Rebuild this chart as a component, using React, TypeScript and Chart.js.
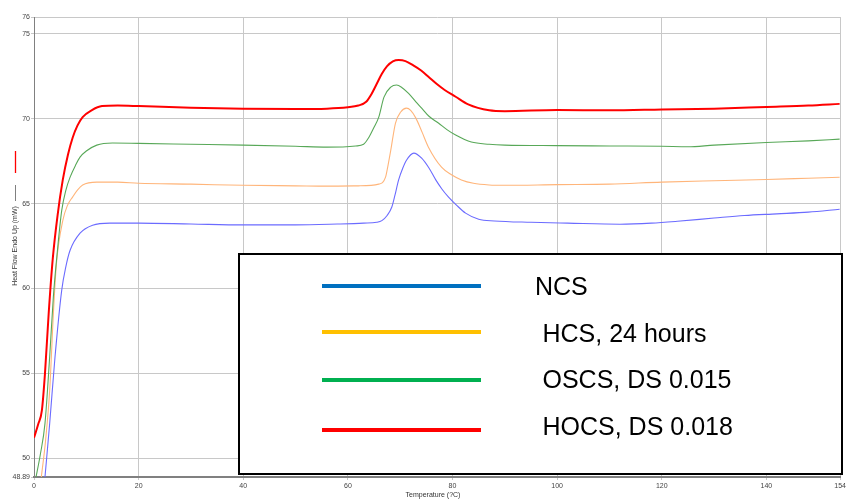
import React, { useEffect, useRef } from 'react';
import { Chart, registerables } from 'chart.js';

Chart.register(...registerables);

// ---- data ----
const seriesNames = ['NCS', 'HCS, 24 hours', 'OSCS, DS 0.015', 'HOCS, DS 0.018'];

const ncsT = [2.1, 3.0, 4.0, 5.3, 6.1, 6.9, 8.8, 11.2, 14.5, 20, 30, 40, 50, 58, 63, 65.5, 66.5, 67.5, 68.4, 69.0, 69.7, 70.5, 71.2, 72.6, 74.1, 75.5, 76.8, 78, 79.2, 80.8, 82.5, 85, 88, 95, 102, 112, 118, 123, 130, 135.8, 142, 148, 154];
const ncsHF = [48.89, 52.05, 55.9, 59.9, 61.3, 62.25, 63.26, 63.73, 63.85, 63.85, 63.8, 63.75, 63.75, 63.8, 63.85, 63.9, 64.0, 64.3, 64.8, 65.5, 66.4, 67.1, 67.56, 67.98, 67.68, 67.1, 66.4, 65.85, 65.4, 64.9, 64.44, 64.08, 63.98, 63.9, 63.85, 63.79, 63.85, 63.96, 64.15, 64.3, 64.4, 64.5, 64.67];

const hcsT = [1.4, 2.2, 3.0, 3.7, 4.3, 5.5, 6.4, 7.4, 8.3, 9.3, 12, 16, 20, 30, 40, 50, 56, 62, 65.9, 67.2, 67.7, 68.2, 69.1, 70.1, 71.2, 72, 73, 74.2, 75.4, 77.9, 79.8, 81.7, 84, 87, 90, 100, 110, 120, 130, 140, 148, 154];
const hcsHF = [48.89, 51.0, 54.0, 58.5, 61.5, 64.0, 64.9, 65.4, 65.8, 66.1, 66.27, 66.27, 66.2, 66.15, 66.08, 66.05, 66.03, 66.05, 66.15, 66.56, 67.3, 68.15, 69.75, 70.4, 70.63, 70.5, 70.04, 69.2, 68.33, 67.15, 66.7, 66.4, 66.2, 66.1, 66.08, 66.12, 66.15, 66.27, 66.35, 66.42, 66.5, 66.56];

const oscsT = [0.4, 1.2, 2.1, 3.0, 3.7, 4.5, 5.3, 6.1, 6.9, 8, 8.8, 10, 12, 15, 20, 30, 40, 50, 56, 61.5, 63, 64, 65, 65.9, 66.9, 68.2, 69.3, 70.3, 71.6, 73, 74.1, 75.5, 77.3, 79, 80.6, 83.6, 87, 90, 100, 110, 120, 125, 130, 140, 148, 154];
const oscsHF = [48.9, 50.2, 52.05, 56.0, 59.5, 62.3, 64.6, 65.8, 66.56, 67.3, 67.74, 68.1, 68.45, 68.57, 68.55, 68.5, 68.45, 68.38, 68.33, 68.4, 68.5, 68.9, 69.5, 70.1, 71.28, 71.87, 71.99, 71.85, 71.5, 71.0, 70.63, 70.15, 69.75, 69.35, 69.04, 68.63, 68.5, 68.45, 68.42, 68.4, 68.38, 68.35, 68.45, 68.6, 68.7, 68.8];

const hocsT = [0, 0.8, 1.5, 2.1, 2.8, 3.6, 4.5, 5.5, 6.5, 7.4, 8.3, 9.3, 11, 13, 16, 20, 30, 40, 50, 56, 60, 62, 63.5, 64.5, 65.5, 66.5, 67.5, 68.6, 69.7, 71, 72.5, 74, 75.5, 77, 78.5, 80.6, 83, 87, 90, 100, 110, 120, 130, 140, 148, 154];
const hocsHF = [51.2, 52.0, 52.8, 55.0, 58.5, 61.8, 64.3, 66.4, 67.9, 68.9, 69.6, 70.1, 70.5, 70.75, 70.78, 70.75, 70.65, 70.6, 70.58, 70.6, 70.68, 70.78, 71.0, 71.45, 72.05, 72.65, 73.1, 73.38, 73.46, 73.4, 73.15, 72.85, 72.45, 72.05, 71.7, 71.3, 70.85, 70.5, 70.45, 70.52, 70.5, 70.55, 70.6, 70.7, 70.78, 70.88];

const xTickValues = [0, 20, 40, 60, 80, 100, 120, 140];
const xMax = 154.1;
const xMaxLabel = '154';
const yTickValues = [48.89, 50, 55, 60, 65, 70, 75, 76];
const yMin = 48.89;
const yMax = 76;
const yTitle = 'Heat Flow Endo Up (mW)';
const xTitle = 'Temperature (?C)';

const lineColors = ['#6B6BFF', '#FFB57A', '#58A858', '#FF0000'];
const lineWidths = [1.1, 1.1, 1.1, 2];
const legendColors = ['#0070C0', '#FFC000', '#00B050', '#FF0000'];

const seriesT = [ncsT, hcsT, oscsT, hocsT];
const seriesHF = [ncsHF, hcsHF, oscsHF, hocsHF];

const overlayPlugin = {
  id: 'overlay',
  afterDraw(chart: any) {
    const ctx = chart.ctx as CanvasRenderingContext2D;
    ctx.save();
    // x title
    ctx.fillStyle = '#333';
    ctx.font = '7px "Liberation Sans", Arial, sans-serif';
    ctx.textAlign = 'center';
    ctx.textBaseline = 'middle';
    ctx.fillText(xTitle, 433, 495);
    // y title with marker lines
    ctx.save();
    ctx.translate(15, 246);
    ctx.rotate(-Math.PI / 2);
    ctx.fillText(yTitle, 0, 0);
    ctx.restore();
    ctx.strokeStyle = '#808080';
    ctx.lineWidth = 1;
    ctx.beginPath();
    ctx.moveTo(15.5, 185);
    ctx.lineTo(15.5, 201);
    ctx.stroke();
    ctx.strokeStyle = '#FF0000';
    ctx.lineWidth = 1.3;
    ctx.beginPath();
    ctx.moveTo(15.5, 151);
    ctx.lineTo(15.5, 173);
    ctx.stroke();

    // legend box
    ctx.fillStyle = '#FFFFFF';
    ctx.fillRect(238, 253, 605, 222);
    ctx.strokeStyle = '#000000';
    ctx.lineWidth = 2;
    ctx.strokeRect(239, 254, 603, 220);
    const lineYs = [286, 332, 380, 430];
    const textYs = [295, 342, 388, 435];
    const textXs = [535, 542.5, 542.5, 542.5];
    ctx.font = '25px "Liberation Sans", Arial, sans-serif';
    ctx.textAlign = 'left';
    ctx.textBaseline = 'alphabetic';
    for (let i = 0; i < seriesNames.length; i++) {
      ctx.strokeStyle = legendColors[i];
      ctx.lineWidth = 4;
      ctx.beginPath();
      ctx.moveTo(322, lineYs[i]);
      ctx.lineTo(481, lineYs[i]);
      ctx.stroke();
      ctx.fillStyle = '#000000';
      ctx.fillText(seriesNames[i], textXs[i], textYs[i]);
    }
    ctx.restore();
  },
};

export default function App() {
  const ref = useRef<HTMLCanvasElement | null>(null);

  useEffect(() => {
    document.body.style.margin = '0';
    const canvas = ref.current;
    if (!canvas) return;
    const datasets = seriesNames.map((name, i) => ({
      label: name,
      data: seriesT[i].map((t, j) => ({ x: t, y: seriesHF[i][j] })),
      borderColor: lineColors[i],
      backgroundColor: lineColors[i],
      borderWidth: lineWidths[i],
      pointRadius: 0,
      fill: false,
      cubicInterpolationMode: 'monotone' as const,
      order: 3 - i,
    }));
    const tickFont = { family: '"Liberation Sans", Arial, sans-serif', size: 7 };
    const chart = new Chart(canvas, {
      type: 'line',
      data: { datasets },
      plugins: [overlayPlugin],
      options: {
        animation: false,
        responsive: false,
        devicePixelRatio: 1,
        layout: { padding: { top: 17, right: 5, left: 0, bottom: 0 } },
        plugins: { legend: { display: false }, tooltip: { enabled: false } },
        scales: {
          x: {
            type: 'linear',
            min: 0,
            max: xMax,
            afterBuildTicks: (axis: any) => {
              axis.ticks = [...xTickValues, xMax].map((v) => ({ value: v }));
            },
            afterFit: (axis: any) => {
              axis.height = 23;
            },
            ticks: {
              autoSkip: false,
              maxRotation: 0,
              font: tickFont,
              color: '#444',
              padding: 2,
              callback: (v: any) => (v === xMax ? xMaxLabel : String(v)),
            },
            grid: { color: '#C8C8C8', lineWidth: 1, tickLength: 3, drawTicks: true },
            border: { color: '#808080', width: 2 },
          },
          y: {
            type: 'linear',
            min: yMin,
            max: yMax,
            afterBuildTicks: (axis: any) => {
              axis.ticks = yTickValues.map((v) => ({ value: v }));
            },
            afterFit: (axis: any) => {
              axis.width = 34;
            },
            ticks: {
              autoSkip: false,
              font: tickFont,
              color: '#444',
              padding: 1,
              callback: (v: any) => String(v),
            },
            grid: { color: '#C8C8C8', lineWidth: 1, tickLength: 3, drawTicks: true },
            border: { color: '#808080', width: 1 },
          },
        },
      },
    });
    return () => chart.destroy();
  }, []);

  return (
    <div style={{ width: 848, height: 500 }}>
      <canvas ref={ref} width={848} height={500} style={{ display: 'block' }} />
    </div>
  );
}
